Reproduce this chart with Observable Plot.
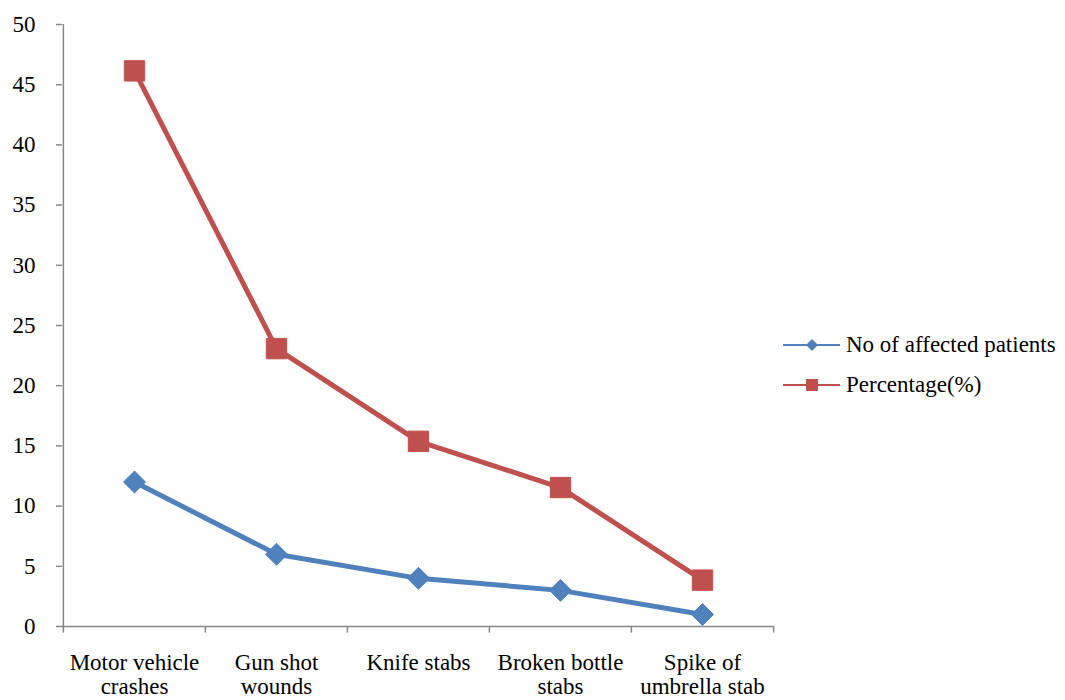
<!DOCTYPE html>
<html>
<head>
<meta charset="utf-8">
<script src="https://cdn.jsdelivr.net/npm/d3@7"></script>
<script src="https://cdn.jsdelivr.net/npm/@observablehq/plot@0.6"></script>
<style>
  html, body { margin: 0; padding: 0; background: #fff; }
  #wrap { position: relative; width: 1065px; height: 700px; font-family: "Liberation Serif", "Times New Roman", Times, "Nimbus Roman", "DejaVu Serif", serif; }
  #legend { position: absolute; left: 783px; top: 325px; font-size: 23px; color: #000; }
  .item { display: flex; align-items: center; height: 40px; white-space: nowrap; }
  .item svg { margin-right: 6px; }
</style>
</head>
<body>
<div id="wrap"><div id="legend"></div></div>
<script>
const categories = ["Motor vehicle crashes", "Gun shot wounds", "Knife stabs", "Broken bottle stabs", "Spike of umbrella stab"];
const categoryLabels = ["Motor vehicle\ncrashes", "Gun shot\nwounds", "Knife stabs", "Broken bottle\nstabs", "Spike of\numbrella stab"];
const patients = [12, 6, 4, 3, 1];
const percentage = [46.15, 23.08, 15.38, 11.54, 3.85];
const seriesNames = ["No of affected patients", "Percentage(%)"];
const seriesColors = ["#4F81BD", "#C0504D"];
const yTicks = [0, 5, 10, 15, 20, 25, 30, 35, 40, 45, 50];

const width = 1065, height = 700;
const marginLeft = 62, marginRight = 292, marginTop = 24, marginBottom = 74;
const step = (width - marginLeft - marginRight) / categories.length;

const rows = [];
categories.forEach((c, i) => {
  rows.push({cat: c, label: categoryLabels[i], series: seriesNames[0], value: patients[i]});
  rows.push({cat: c, label: categoryLabels[i], series: seriesNames[1], value: percentage[i]});
});
const blue = rows.filter(d => d.series === seriesNames[0]);
const red = rows.filter(d => d.series === seriesNames[1]);

const font = '"Liberation Serif", "Times New Roman", Times, "Nimbus Roman", "DejaVu Serif", serif';
const axisColor = "#868686";

const chart = Plot.plot({
  width, height, marginLeft, marginRight, marginTop, marginBottom,
  style: {fontFamily: font, fontSize: "23px", color: "#000", background: "#fff"},
  x: {type: "point", domain: categories, padding: 0.5, axis: null},
  y: {domain: [0, 50], axis: null},
  marks: [
    Plot.axisY({ticks: yTicks, label: null, tickSize: 6, tickPadding: 21, stroke: axisColor, strokeWidth: 1.5, fill: "#000", fontSize: 23, fontFamily: font}),
    // y axis line at the left edge of the frame
    Plot.ruleX([categories[0]], {x: d => d, dx: -step / 2, y1: 0, y2: 50, stroke: axisColor, strokeWidth: 1.5}),
    // x axis line
    Plot.ruleY([0], {stroke: axisColor, strokeWidth: 1.5}),
    // category boundary ticks
    Plot.ruleX(categories, {x: d => d, dx: -step / 2, y1: 0, y2: -0.55, stroke: axisColor, strokeWidth: 1.5}),
    Plot.ruleX([categories[categories.length - 1]], {x: d => d, dx: step / 2, y1: 0, y2: -0.55, stroke: axisColor, strokeWidth: 1.5}),
    // category labels
    Plot.text(blue, {x: "cat", y: 0, text: "label", dy: 26, lineAnchor: "top", lineHeight: 1.06, fontSize: 23, fill: "#000", fontFamily: font}),
    Plot.line(blue, {x: "cat", y: "value", stroke: seriesColors[0], strokeWidth: 5}),
    Plot.line(red, {x: "cat", y: "value", stroke: seriesColors[1], strokeWidth: 5}),
    Plot.dot(blue, {x: "cat", y: "value", symbol: "diamond2", r: 9.9, fill: seriesColors[0], stroke: seriesColors[0], strokeWidth: 1}),
    Plot.dot(red, {x: "cat", y: "value", symbol: "square", r: 11.5, fill: seriesColors[1], stroke: seriesColors[1], strokeWidth: 1})
  ]
});

document.getElementById("wrap").prepend(chart);

// Legend
const legend = document.getElementById("legend");
seriesNames.forEach((name, i) => {
  const item = document.createElement("div");
  item.className = "item";
  const marker = i === 0
    ? `<path d="M29,-6 L35,0 L29,6 L23,0 Z" fill="${seriesColors[i]}"/>`
    : `<rect x="23" y="-6" width="12" height="12" fill="${seriesColors[i]}"/>`;
  item.innerHTML = `<svg width="57" height="20" viewBox="0 -10 57 20"><line x1="0" x2="57" y1="0" y2="0" stroke="${seriesColors[i]}" stroke-width="2"/>${marker}</svg><span>${name}</span>`;
  legend.appendChild(item);
});
</script>
</body>
</html>
